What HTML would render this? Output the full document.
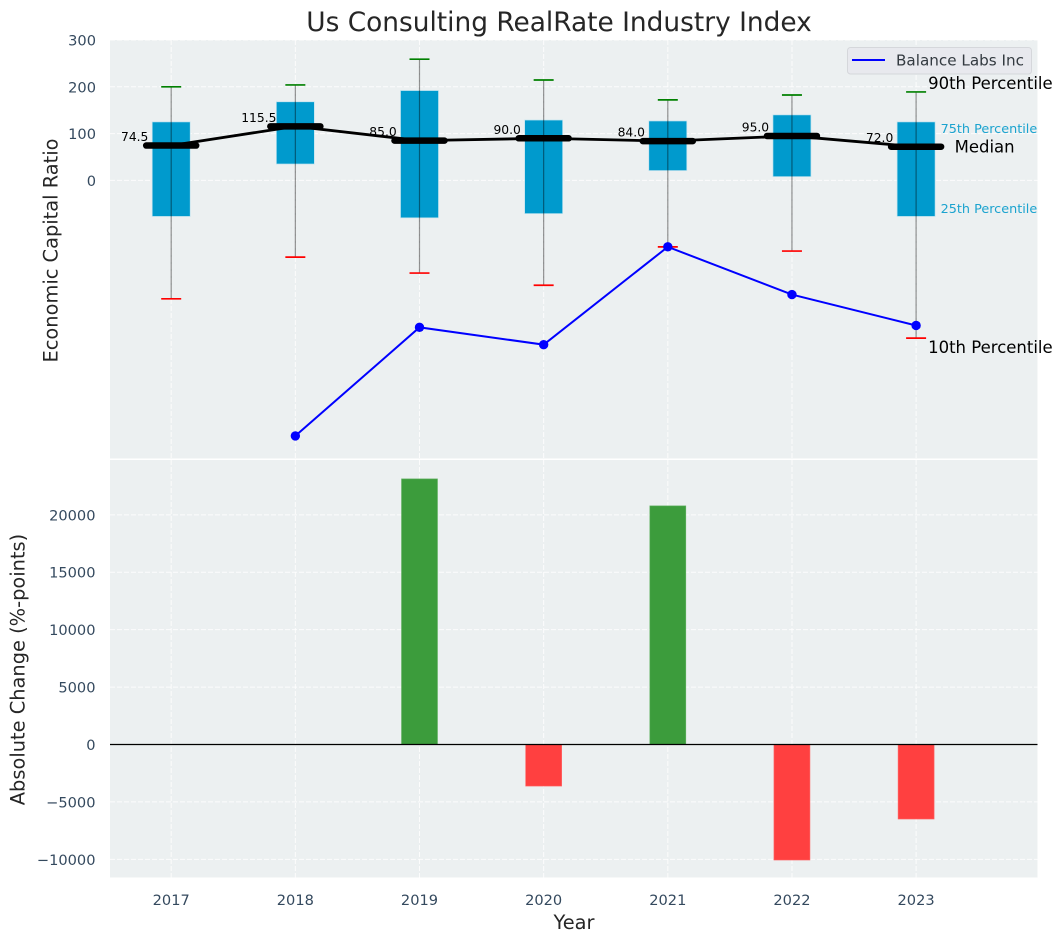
<!DOCTYPE html>
<html lang="en">
<head>
<meta charset="utf-8">
<title>Us Consulting RealRate Industry Index</title>
<style>
html,body{margin:0;padding:0;background:#fff;}
svg{display:block;font-family:"DejaVu Sans","Liberation Sans",sans-serif;}
</style>
</head>
<body>
<svg id="chart" xmlns="http://www.w3.org/2000/svg" width="1063" height="942" viewBox="0 0 1063 942">
  <text x="559" y="31" font-size="26.4" fill="#262626" text-anchor="middle">Us Consulting RealRate Industry Index</text>
  <rect x="110" y="40" width="927.5" height="418.5" fill="#ecf0f1"/>
  <rect x="110" y="460" width="927.5" height="417.5" fill="#ecf0f1"/>
  <g id="grid"></g>
  <g id="upperTicks"></g>
  <g id="lowerTicks"></g>
  <g id="xTicks"></g>
  <g id="boxes"></g>
  <g id="medians"></g>
  <g id="company"></g>
  <g id="bars"></g>
  <g id="annotations"></g>
  <text transform="translate(57.5,250.5) rotate(-90)" font-size="19.4" fill="#262626" text-anchor="middle">Economic Capital Ratio</text>
  <text transform="translate(24.5,669.5) rotate(-90)" font-size="19.4" fill="#262626" text-anchor="middle">Absolute Change (%-points)</text>
  <text x="574" y="929" font-size="19.4" fill="#262626" text-anchor="middle">Year</text>
  <g>
    <rect x="847.5" y="47.5" width="184" height="26.5" rx="3" fill="#e8e9ee" stroke="#d5d7db" stroke-width="1"/>
    <line x1="852" y1="60" x2="885" y2="60" stroke="#0000ff" stroke-width="2"/>
    <text x="896" y="65.5" font-size="15.2" fill="#333a40">Balance Labs Inc</text>
  </g>
</svg>
<script>
const years = [2017, 2018, 2019, 2020, 2021, 2022, 2023];
const p90 = [200, 204, 259, 214.5, 172, 182.5, 189];
const p75 = [125, 168, 192, 129, 127, 140, 125];
const median = [74.5, 115.5, 85, 90, 84, 95, 72];
const p25 = [-77, 35, -80, -71, 21, 8, -77];
const p10 = [-253, -164, -198, -224, -142, -151, -337];
const company = [null, -546, -314, -351, -142, -244, -310];
const change = [null, null, 23130, -3620, 20780, -10060, -6490];
const upperTickValues = [0, 100, 200, 300];
const upperTickLabels = ['0', '100', '200', '300'];
const lowerTickValues = [-10000, -5000, 0, 5000, 10000, 15000, 20000];
const lowerTickLabels = ['\u221210000', '\u22125000', '0', '5000', '10000', '15000', '20000'];

const NS = 'http://www.w3.org/2000/svg';
function x(v) { return 171.2 + (v - 2017) * 124.15; }
function yU(v) { return 180.4 - v * 0.468; }
function yL(v) { return 744.5 - v * 0.011484; }
function mk(parent, tag, attrs, txt) {
  const el = document.createElementNS(NS, tag);
  for (const k in attrs) el.setAttribute(k, attrs[k]);
  if (txt !== undefined) el.textContent = txt;
  document.getElementById(parent).appendChild(el);
  return el;
}
const gridDash = {stroke: '#ffffff', 'stroke-width': 1, 'stroke-dasharray': '5 2', opacity: 0.85};

years.forEach(function (yr) {
  const v1 = mk('grid', 'line', Object.assign({x1: x(yr), x2: x(yr), y1: 40, y2: 458.5}, gridDash));
  
  
  const v2 = mk('grid', 'line', Object.assign({x1: x(yr), x2: x(yr), y1: 460, y2: 877.5}, gridDash));
  
  
  const t = mk('xTicks', 'text', {x: x(yr), y: 905, 'font-size': 14.6, fill: '#34495e', 'text-anchor': 'middle'}, String(yr));
  
  
});

upperTickValues.forEach(function (v, i) {
  const g = mk('grid', 'line', Object.assign({x1: 110, x2: 1037.5, y1: yU(v), y2: yU(v)}, gridDash));
  
  
  const t = mk('upperTicks', 'text', {x: 96, y: yU(v) + 5.5, 'font-size': 14.6, fill: '#34495e', 'text-anchor': 'end'}, upperTickLabels[i]);
  
  
});

lowerTickValues.forEach(function (v, i) {
  const g = mk('grid', 'line', Object.assign({x1: 110, x2: 1037.5, y1: yL(v), y2: yL(v)}, gridDash));
  
  
  const t = mk('lowerTicks', 'text', {x: 95.5, y: yL(v) + 5.5, 'font-size': 14.6, fill: '#34495e', 'text-anchor': 'end'}, lowerTickLabels[i]);
  
  
});

const boxHalf = 19;
const capHalf = 10;
const medHalf = 25;
years.forEach(function (yr, i) {
  const cx = x(yr);
  const box = mk('boxes', 'rect', {x: cx - boxHalf, y: yU(p75[i]), width: boxHalf * 2, height: yU(p25[i]) - yU(p75[i]), fill: '#009acd', stroke: '#bfe3ef', 'stroke-width': 0.7});
  
  
  const whisker = mk('boxes', 'line', {x1: cx, x2: cx, y1: yU(p90[i]), y2: yU(p10[i]), stroke: '#000000', 'stroke-opacity': 0.42, 'stroke-width': 1.2});
  
  
  const capTop = mk('boxes', 'line', {x1: cx - capHalf, x2: cx + capHalf, y1: yU(p90[i]), y2: yU(p90[i]), stroke: '#008000', 'stroke-width': 1.7});
  
  
  const capBot = mk('boxes', 'line', {x1: cx - capHalf, x2: cx + capHalf, y1: yU(p10[i]), y2: yU(p10[i]), stroke: '#ff0000', 'stroke-width': 1.7});
  
  
});

const medPts = years.map(function (yr, i) { return x(yr) + ',' + yU(median[i]); }).join(' ');
const medLine = mk('medians', 'polyline', {points: medPts, fill: 'none', stroke: '#000000', 'stroke-width': 2.8});


years.forEach(function (yr, i) {
  const cx = x(yr);
  const m = mk('medians', 'line', {x1: cx - medHalf, x2: cx + medHalf, y1: yU(median[i]), y2: yU(median[i]), stroke: '#000000', 'stroke-width': 6.5, 'stroke-linecap': 'round'});
  
  
  const t = mk('medians', 'text', {x: cx - 36.5, y: yU(median[i]) - 4.5, 'font-size': 12.3, fill: '#000000', 'text-anchor': 'middle'}, median[i].toFixed(1));
  
  
});

const compPts = [];
years.forEach(function (yr, i) { if (company[i] !== null) compPts.push(x(yr) + ',' + yU(company[i])); });
const compLine = mk('company', 'polyline', {points: compPts.join(' '), fill: 'none', stroke: '#0000ff', 'stroke-width': 2});


years.forEach(function (yr, i) {
  if (company[i] === null) return;
  const c = mk('company', 'circle', {cx: x(yr), cy: yU(company[i]), r: 4.7, fill: '#0000ff'});
  
  
});

const barHalf = 18;
years.forEach(function (yr, i) {
  if (change[i] === null) return;
  const v = change[i];
  const top = Math.min(yL(v), yL(0));
  const h = Math.abs(yL(v) - yL(0));
  const b = mk('bars', 'rect', {x: x(yr) - barHalf, y: top, width: barHalf * 2, height: h, fill: v >= 0 ? '#3c9c3c' : '#ff4040', stroke: v >= 0 ? '#66b366' : '#ff6666', 'stroke-width': 0.6});
  
  
});
const zero = mk('bars', 'line', {x1: 110, x2: 1037.5, y1: yL(0), y2: yL(0), stroke: '#000000', 'stroke-width': 1.2});



const last = years.length - 1;
const lx = x(years[last]);
const a90 = mk('annotations', 'text', {x: lx + 12, y: yU(p90[last]) - 3, 'font-size': 16.5, fill: '#000000'}, '90th Percentile');


const a75 = mk('annotations', 'text', {x: lx + 24.5, y: yU(p75[last]) + 11, 'font-size': 12.8, fill: '#1ba3cf'}, '75th Percentile');


const aMed = mk('annotations', 'text', {x: lx + 38.5, y: yU(median[last]) + 6, 'font-size': 16.5, fill: '#000000'}, 'Median');


const a25 = mk('annotations', 'text', {x: lx + 24.5, y: yU(p25[last]) - 3.5, 'font-size': 12.8, fill: '#1ba3cf'}, '25th Percentile');


const a10 = mk('annotations', 'text', {x: lx + 12, y: yU(p10[last]) + 15, 'font-size': 16.5, fill: '#000000'}, '10th Percentile');


</script>
</body>
</html>
